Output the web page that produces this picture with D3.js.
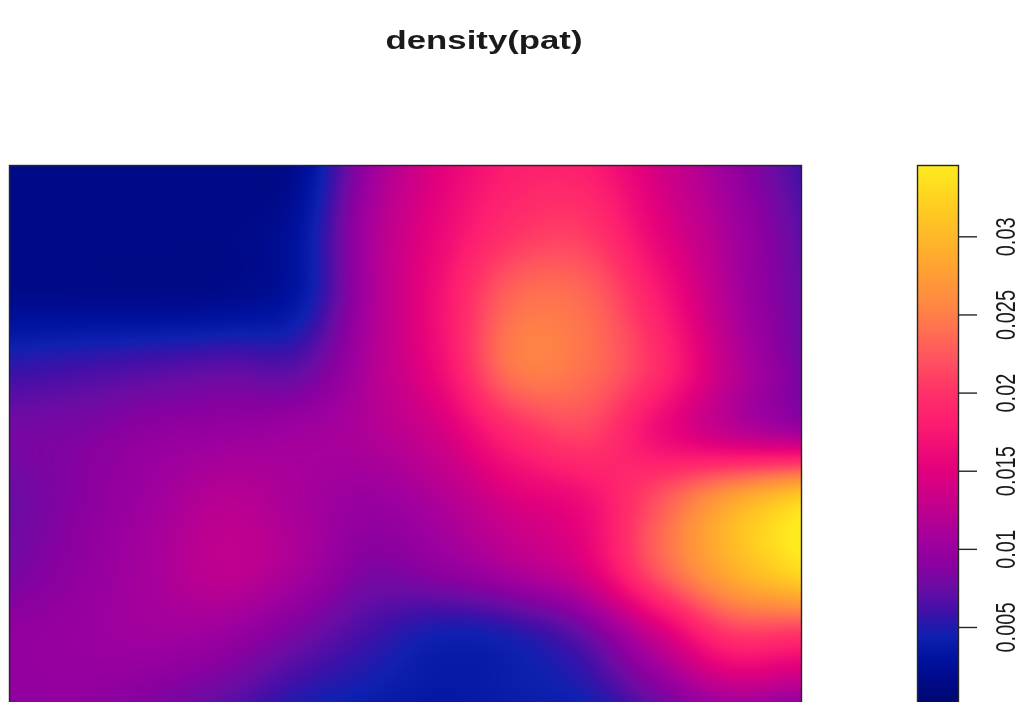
<!DOCTYPE html>
<html>
<head>
<meta charset="utf-8">
<script src="https://cdn.jsdelivr.net/npm/d3@7"></script>
<style>
  html, body { margin: 0; padding: 0; background: #fff; }
  #wrap { position: relative; width: 1028px; height: 702px; overflow: hidden; }
  #wrap canvas, #wrap svg { position: absolute; left: 0; top: 0; }
  text { font-family: "Liberation Sans", Arial, Helvetica, sans-serif; fill: #1a1a1a; }
</style>
</head>
<body>
<div id="wrap">
  <canvas id="field" width="1028" height="702"></canvas>
  <svg id="chart" width="1028" height="702"></svg>
</div>
<script>
// ---- data -----------------------------------------------------------
const chartTitle = "density(pat)";

// Kernel intensity estimate on a regular lattice, top row first,
// west to east within each row.
const densityRows = [
  [0.0015, 0.0015, 0.0015, 0.0015, 0.0020, 0.0100, 0.0150, 0.0180, 0.0180, 0.0140, 0.0100, 0.0060],
  [0.0015, 0.0015, 0.0015, 0.0015, 0.0030, 0.0110, 0.0160, 0.0200, 0.0205, 0.0155, 0.0110, 0.0070],
  [0.0018, 0.0018, 0.0018, 0.0020, 0.0035, 0.0110, 0.0170, 0.0235, 0.0235, 0.0180, 0.0115, 0.0075],
  [0.0055, 0.0060, 0.0065, 0.0070, 0.0070, 0.0115, 0.0165, 0.0245, 0.0240, 0.0195, 0.0125, 0.0080],
  [0.0080, 0.0085, 0.0095, 0.0100, 0.0105, 0.0115, 0.0140, 0.0190, 0.0210, 0.0165, 0.0130, 0.0110],
  [0.0075, 0.0090, 0.0105, 0.0120, 0.0110, 0.0100, 0.0115, 0.0145, 0.0165, 0.0220, 0.0280, 0.0325],
  [0.0080, 0.0095, 0.0110, 0.0125, 0.0110, 0.0085, 0.0095, 0.0115, 0.0145, 0.0225, 0.0290, 0.0335],
  [0.0095, 0.0100, 0.0105, 0.0100, 0.0080, 0.0060, 0.0045, 0.0050, 0.0075, 0.0135, 0.0200, 0.0200],
  [0.0095, 0.0095, 0.0085, 0.0070, 0.0050, 0.0040, 0.0035, 0.0040, 0.0045, 0.0075, 0.0105, 0.0095]
];

// Colour ribbon
const valueRange = [0.0002, 0.0345];
const tickValues = [0.005, 0.01, 0.015, 0.02, 0.025, 0.03];
const tickLabels = ["0.005", "0.01", "0.015", "0.02", "0.025", "0.03"];

// Colour map stops (value -> colour)
const rampValues  = [0.0002, 0.0015, 0.003, 0.0045, 0.006, 0.0075, 0.009, 0.0105, 0.012, 0.0135,
                     0.015, 0.0165, 0.018, 0.020, 0.022, 0.024, 0.026, 0.028, 0.030, 0.032, 0.0345];
const rampColours = ["#000870", "#000a88", "#0012a0", "#1020b0", "#4010a8", "#6a0ca4", "#8a00a0",
                     "#a0009e", "#b80092", "#cc0088", "#e2007c", "#f00c76", "#fc1c70", "#ff3068",
                     "#ff5060", "#ff7050", "#ff8c40", "#ffa232", "#ffb828", "#ffce20", "#ffea20"];

// ---- layout ---------------------------------------------------------
const W = 1028, H = 702;
const plot = { left: 10, right: 801, top: 166, bottom: 702 };
const ribbon = { left: 918, right: 958, top: 166, bottom: 702 };

const nRows = densityRows.length, nCols = densityRows[0].length;

// pixel -> lattice index
const colScale = d3.scaleLinear().domain([plot.left, plot.right]).range([0, nCols - 1]);
const rowScale = d3.scaleLinear().domain([plot.top, plot.bottom]).range([0, nRows - 1]);

const colour = d3.scaleLinear()
  .domain(rampValues)
  .range(rampColours)
  .interpolate(d3.interpolateRgb)
  .clamp(true);

// ---- smooth surface (Catmull-Rom along both lattice axes) -----------
function catmull(p0, p1, p2, p3, t) {
  return 0.5 * ((2 * p1) + (-p0 + p2) * t +
    (2 * p0 - 5 * p1 + 4 * p2 - p3) * t * t +
    (-p0 + 3 * p1 - 3 * p2 + p3) * t * t * t);
}
function sample(arr, u) {
  const n = arr.length;
  let i = Math.floor(u);
  if (i > n - 2) i = n - 2;
  if (i < 0) i = 0;
  const t = u - i;
  const at = k => {
    if (k < 0) return 2 * arr[0] - arr[1];
    if (k > n - 1) return 2 * arr[n - 1] - arr[n - 2];
    return arr[k];
  };
  return catmull(at(i - 1), at(i), at(i + 1), at(i + 2), t);
}

// colour lookup table built from the colour scale
const LUT_N = 2048;
const lutScale = d3.scaleLinear().domain([0, LUT_N - 1]).range(valueRange);
const lut = new Uint8ClampedArray(LUT_N * 3);
for (let k = 0; k < LUT_N; k++) {
  const c = d3.rgb(colour(lutScale(k)));
  lut[k * 3] = c.r; lut[k * 3 + 1] = c.g; lut[k * 3 + 2] = c.b;
}
const toLut = d3.scaleLinear().domain(valueRange).range([0, LUT_N - 1]).clamp(true);

const canvas = document.getElementById("field");
const ctx = canvas.getContext("2d");
const pw = plot.right - plot.left, ph = plot.bottom - plot.top;
const img = ctx.createImageData(pw, ph);

// interpolate every lattice row along x first
const colCache = [];
for (let px = 0; px < pw; px++) {
  const u = colScale(plot.left + px + 0.5);
  const col = new Float64Array(nRows);
  for (let r = 0; r < nRows; r++) col[r] = sample(densityRows[r], u);
  colCache.push(col);
}
for (let py = 0; py < ph; py++) {
  const v = rowScale(plot.top + py + 0.5);
  for (let px = 0; px < pw; px++) {
    const val = sample(colCache[px], v);
    const k = Math.round(toLut(val)) * 3;
    const o = (py * pw + px) * 4;
    img.data[o] = lut[k]; img.data[o + 1] = lut[k + 1]; img.data[o + 2] = lut[k + 2]; img.data[o + 3] = 255;
  }
}
ctx.putImageData(img, plot.left, plot.top);

// ---- svg overlay ----------------------------------------------------
const svg = d3.select("#chart");

// title
svg.append("text")
  .attr("transform", "translate(484,49) scale(1.39,1)")
  .attr("text-anchor", "middle")
  .style("font-size", "25px")
  .style("font-weight", "bold")
  .text(chartTitle);

// frame of the image panel (extends below the visible area)
svg.append("rect")
  .attr("x", plot.left - 0.5).attr("y", plot.top - 0.5)
  .attr("width", pw + 1).attr("height", ph + 20)
  .attr("fill", "none").attr("stroke", "#262626").attr("stroke-width", 1.4);

// colour ribbon
const barY = d3.scaleLinear().domain(valueRange).range([ribbon.bottom, ribbon.top]);
const stripRows = d3.range(ribbon.top, ribbon.bottom);
svg.append("g").selectAll("rect")
  .data(stripRows)
  .join("rect")
  .attr("x", ribbon.left)
  .attr("y", d => d)
  .attr("width", ribbon.right - ribbon.left)
  .attr("height", 1.05)
  .attr("fill", d => colour(barY.invert(d + 0.5)));

svg.append("rect")
  .attr("x", ribbon.left - 0.5).attr("y", ribbon.top - 0.5)
  .attr("width", ribbon.right - ribbon.left + 1).attr("height", ribbon.bottom - ribbon.top + 20)
  .attr("fill", "none").attr("stroke", "#262626").attr("stroke-width", 1.4);

const axis = d3.axisRight(barY)
  .tickValues(tickValues)
  .tickSize(19)
  .tickFormat((d, i) => tickLabels[i]);

const ax = svg.append("g")
  .attr("transform", `translate(${ribbon.right},0)`)
  .call(axis);
ax.select(".domain").remove();
ax.selectAll(".tick line").attr("stroke", "#262626").attr("stroke-width", 1.4);
ax.selectAll(".tick text")
  .attr("x", null).attr("dy", null)
  .attr("transform", "translate(57,0) scale(1.4,1) rotate(-90)")
  .attr("text-anchor", "middle")
  .attr("fill", "#1a1a1a")
  .style("font-size", "20px")
  .style("font-family", "'Liberation Sans', Arial, Helvetica, sans-serif");
</script>
</body>
</html>
